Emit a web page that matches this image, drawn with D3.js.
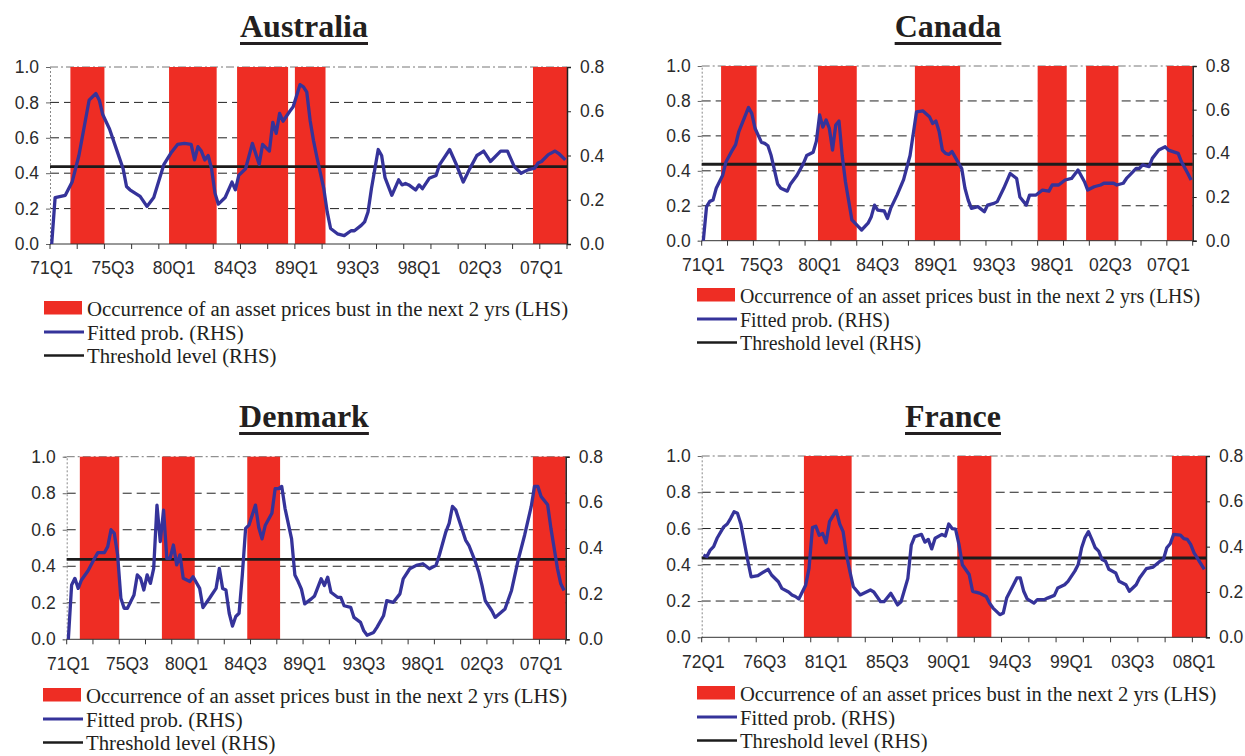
<!DOCTYPE html>
<html>
<head>
<meta charset="utf-8">
<script src="https://cdn.jsdelivr.net/npm/d3@7"></script>
<style>
  body { margin: 0; background: #fff; }
  svg { display: block; }
  .tick text { font-family: "Liberation Sans", Arial, sans-serif; font-size: 17.5px; fill: #2b2b2b; }
  .title { font-family: "Liberation Serif", "Times New Roman", serif; font-size: 32px; font-weight: bold; fill: #231f20; }
  .legend text { font-family: "Liberation Serif", "Times New Roman", serif; fill: #231f20; }
</style>
</head>
<body>
<svg id="chart" width="1245" height="756"></svg>
<script>
// y axis ticks (LHS = bust occurrence, RHS = probabilities)
const lhsTicks = [0, 0.2, 0.4, 0.6, 0.8, 1.0];
const rhsTicks = [0, 0.2, 0.4, 0.6, 0.8];

// x axis labels
const ticks71 = ["71Q1", "75Q3", "80Q1", "84Q3", "89Q1", "93Q3", "98Q1", "02Q3", "07Q1"];
const ticks72 = ["72Q1", "76Q3", "81Q1", "85Q3", "90Q1", "94Q3", "99Q1", "03Q3", "08Q1"];

// threshold level (RHS)
const ausThreshold = 0.35, canThreshold = 0.35, denThreshold = 0.35, fraThreshold = 0.35;

// periods with a bust in the next 2 yrs (first and last quarter)
const ausBust = [["72Q3", "74Q4"], ["79Q4", "83Q1"], ["84Q4", "88Q2"], ["89Q1", "91Q1"], ["06Q3", "08Q4"]];
const canBust = [["72Q3", "75Q1"], ["80Q1", "82Q4"], ["87Q3", "90Q4"], ["97Q1", "99Q1"], ["00Q4", "03Q1"], ["07Q1", "08Q4"]];
const denBust = [["72Q1", "74Q4"], ["78Q2", "80Q3"], ["84Q4", "87Q1"], ["06Q3", "08Q4"]];
const fraBust = [["79Q3", "82Q4"], ["90Q4", "93Q1"], ["06Q3", "08Q4"]];

// fitted probability: [quarters since first quarter, value]
const ausProb = [[0,0],[1,0.21],[4,0.22],[6,0.28],[8,0.40],[11,0.65],[13,0.68],[14,0.65],[15,0.585],[17,0.52],[19,0.43],[21,0.34],[22,0.26],[23,0.245],[26,0.215],[28,0.17],[30,0.21],[33,0.36],[35,0.41],[37,0.45],[39,0.455],[41,0.45],[42,0.38],[43,0.44],[44,0.42],[45,0.38],[46,0.40],[47,0.34],[48,0.23],[49,0.18],[51,0.21],[53,0.28],[54,0.245],[55,0.31],[57,0.34],[59,0.455],[61,0.36],[62,0.45],[64,0.42],[65,0.55],[66,0.50],[67,0.59],[68,0.555],[70,0.60],[71,0.62],[73,0.72],[74,0.71],[75,0.686],[76,0.556],[77,0.465],[78,0.39],[80,0.25],[81,0.145],[82,0.07],[84,0.046],[86,0.038],[88,0.06],[89,0.06],[91,0.084],[92,0.10],[93,0.145],[94,0.25],[96,0.427],[97,0.40],[98,0.30],[100,0.22],[102,0.29],[103,0.267],[104,0.274],[105,0.267],[107,0.244],[108,0.267],[109,0.25],[111,0.297],[113,0.31],[114,0.358],[117,0.427],[119,0.358],[121,0.28],[123,0.343],[125,0.40],[126,0.41],[127,0.42],[129,0.373],[132,0.42],[134,0.42],[136,0.35],[138,0.32],[140,0.335],[142,0.343],[143,0.366],[144,0.373],[146,0.404],[148,0.42],[149,0.41],[151,0.38]];
const canProb = [[0,0],[1,0.156],[2,0.18],[3,0.186],[4,0.24],[5,0.27],[6,0.30],[7,0.36],[9,0.415],[10,0.44],[11,0.50],[14,0.61],[15,0.583],[16,0.515],[18,0.45],[19,0.446],[20,0.435],[21,0.39],[23,0.26],[24,0.24],[26,0.227],[27,0.26],[29,0.30],[31,0.354],[32,0.39],[34,0.405],[35,0.456],[36,0.576],[37,0.52],[38,0.553],[39,0.515],[40,0.415],[41,0.53],[42,0.548],[43,0.39],[44,0.27],[46,0.095],[48,0.064],[49,0.049],[51,0.08],[52,0.11],[53,0.163],[54,0.14],[56,0.136],[57,0.102],[58,0.148],[60,0.21],[62,0.28],[64,0.39],[66,0.59],[68,0.594],[70,0.568],[71,0.537],[72,0.548],[73,0.50],[74,0.415],[75,0.40],[76,0.395],[77,0.408],[80,0.33],[81,0.24],[82,0.186],[83,0.148],[85,0.156],[87,0.133],[88,0.163],[90,0.171],[91,0.179],[93,0.24],[95,0.308],[97,0.285],[98,0.20],[100,0.163],[101,0.209],[103,0.209],[105,0.232],[107,0.227],[108,0.255],[110,0.255],[112,0.278],[114,0.285],[116,0.324],[118,0.27],[119,0.232],[121,0.247],[123,0.255],[124,0.263],[127,0.263],[128,0.255],[130,0.263],[131,0.285],[132,0.30],[134,0.331],[135,0.331],[136,0.347],[138,0.339],[139,0.377],[141,0.415],[143,0.43],[144,0.415],[147,0.40],[148,0.362],[150,0.308],[151,0.278]];
const denProb = [[0,0],[1,0.238],[2,0.267],[3,0.223],[4,0.26],[6,0.30],[8,0.355],[9,0.38],[11,0.38],[12,0.406],[13,0.48],[14,0.464],[15,0.37],[16,0.18],[17,0.136],[18,0.136],[20,0.194],[21,0.282],[22,0.267],[23,0.216],[24,0.282],[25,0.245],[26,0.311],[27,0.588],[28,0.428],[29,0.566],[30,0.355],[31,0.355],[32,0.413],[33,0.326],[34,0.37],[35,0.267],[37,0.253],[38,0.274],[40,0.223],[41,0.139],[43,0.18],[45,0.223],[46,0.311],[47,0.223],[48,0.216],[49,0.114],[50,0.058],[51,0.10],[52,0.114],[53,0.282],[54,0.486],[55,0.50],[57,0.588],[58,0.49],[59,0.44],[60,0.50],[62,0.552],[63,0.66],[64,0.66],[65,0.67],[66,0.574],[68,0.44],[69,0.282],[70,0.253],[71,0.22],[72,0.155],[74,0.177],[75,0.19],[77,0.265],[78,0.236],[79,0.272],[80,0.206],[82,0.184],[83,0.184],[84,0.147],[86,0.14],[87,0.096],[89,0.074],[90,0.037],[91,0.018],[93,0.03],[94,0.052],[96,0.103],[97,0.169],[99,0.162],[101,0.199],[102,0.265],[104,0.309],[106,0.324],[108,0.331],[110,0.309],[112,0.324],[113,0.368],[115,0.471],[116,0.508],[117,0.582],[118,0.567],[120,0.479],[121,0.435],[122,0.412],[124,0.339],[125,0.295],[126,0.236],[127,0.169],[129,0.125],[130,0.096],[133,0.133],[135,0.214],[137,0.346],[139,0.457],[141,0.582],[142,0.67],[143,0.67],[144,0.626],[146,0.589],[147,0.486],[148,0.398],[149,0.309],[150,0.243],[151,0.214]];
const fraProb = [[0,0.363],[1,0.356],[2,0.385],[3,0.40],[4,0.437],[6,0.488],[7,0.50],[8,0.525],[9,0.554],[10,0.547],[11,0.50],[12,0.42],[13,0.34],[14,0.267],[16,0.272],[17,0.282],[19,0.30],[20,0.275],[22,0.245],[23,0.216],[25,0.20],[26,0.187],[27,0.18],[28,0.169],[30,0.23],[31,0.304],[32,0.484],[33,0.49],[34,0.45],[35,0.458],[36,0.417],[37,0.51],[39,0.56],[40,0.50],[41,0.466],[42,0.363],[43,0.29],[44,0.223],[46,0.187],[49,0.209],[50,0.20],[52,0.157],[53,0.157],[55,0.194],[57,0.143],[58,0.157],[60,0.26],[61,0.407],[62,0.444],[64,0.454],[65,0.42],[66,0.432],[67,0.39],[68,0.437],[70,0.454],[71,0.447],[72,0.50],[73,0.48],[74,0.477],[75,0.41],[76,0.32],[78,0.277],[79,0.203],[81,0.195],[83,0.18],[84,0.15],[85,0.129],[87,0.10],[88,0.107],[89,0.173],[91,0.232],[92,0.262],[93,0.262],[94,0.203],[95,0.17],[97,0.151],[98,0.166],[100,0.166],[101,0.173],[103,0.185],[104,0.218],[106,0.232],[107,0.247],[109,0.292],[110,0.321],[111,0.395],[112,0.44],[113,0.466],[114,0.432],[115,0.395],[116,0.38],[117,0.343],[118,0.336],[119,0.30],[121,0.284],[122,0.247],[124,0.232],[125,0.203],[127,0.232],[128,0.262],[130,0.303],[132,0.31],[134,0.336],[135,0.343],[136,0.395],[137,0.413],[138,0.454],[140,0.451],[141,0.435],[142,0.432],[143,0.41],[144,0.373],[146,0.324],[147,0.30]];

const legendLabels = [
  "Occurrence of an asset prices bust in the next 2 yrs (LHS)",
  "Fitted prob. (RHS)",
  "Threshold level (RHS)"
];

const RED = "#ee2d24", BLUE = "#35339a", BLACK = "#1c1c1c";

const panels = [
  { name: "Australia", startYear: 71, n: 152, prob: ausProb, bust: ausBust, ticks: ticks71, threshold: ausThreshold,
    left: 50, right: 567, top: 67, bottom: 244, titleX: 304, titleY: 37, legX: 44, legY: 301, legFont: 20.8 },
  { name: "Canada", startYear: 71, n: 152, prob: canProb, bust: canBust, ticks: ticks71, threshold: canThreshold,
    left: 701.7, right: 1192.7, top: 66, bottom: 240.7, titleX: 948, titleY: 37, legX: 697, legY: 288, legFont: 19.9 },
  { name: "Denmark", startYear: 71, n: 152, prob: denProb, bust: denBust, ticks: ticks71, threshold: denThreshold,
    left: 66.7, right: 565.7, top: 456.7, bottom: 639.3, titleX: 304, titleY: 427, legX: 43, legY: 688, legFont: 20.8 },
  { name: "France", startYear: 72, n: 148, prob: fraProb, bust: fraBust, ticks: ticks72, threshold: fraThreshold,
    left: 701.7, right: 1206, top: 456, bottom: 637.3, titleX: 953, titleY: 427, legX: 697, legY: 686, legFont: 20.6 }
];

const svg = d3.select("#chart");

function quarterLabel(startYear, i) {
  const yr = (startYear + Math.floor(i / 4)) % 100;
  return String(yr).padStart(2, "0") + "Q" + (i % 4 + 1);
}

function drawPanel(p) {
  const quarters = d3.range(p.n).map(i => quarterLabel(p.startYear, i));
  const x = d3.scaleBand().domain(quarters).range([p.left, p.right]);
  const bw = x.bandwidth();
  const yL = d3.scaleLinear().domain([0, 1]).range([p.bottom, p.top]);
  const yR = d3.scaleLinear().domain([0, 0.8]).range([p.bottom, p.top]);

  const g = svg.append("g");

  // dashed gridlines
  g.selectAll(".grid")
    .data(lhsTicks.filter(d => d > 0 && d < 1))
    .enter().append("line")
    .attr("x1", p.left).attr("x2", p.right)
    .attr("y1", d => yL(d)).attr("y2", d => yL(d))
    .attr("stroke", "#222").attr("stroke-dasharray", "9,5");

  // top border
  g.append("line")
    .attr("x1", p.left).attr("x2", p.right)
    .attr("y1", yL(1)).attr("y2", yL(1))
    .attr("stroke", "#777").attr("stroke-dasharray", "8,3,2,3");

  // bust bars
  g.selectAll(".bust")
    .data(p.bust)
    .enter().append("rect")
    .attr("x", d => x(d[0]))
    .attr("width", d => x(d[1]) + bw - x(d[0]))
    .attr("y", yL(1))
    .attr("height", yL(0) - yL(1))
    .attr("fill", RED);

  // left axis
  const la = g.append("g")
    .attr("transform", `translate(${p.left},0)`)
    .call(d3.axisLeft(yL).tickValues(lhsTicks).tickFormat(d3.format(".1f")).tickSize(4).tickPadding(7));
  la.select(".domain").attr("stroke", "#888").attr("stroke-dasharray", "2,2");
  la.selectAll(".tick line").attr("stroke", "#666");

  // right axis
  const ra = g.append("g")
    .attr("transform", `translate(${p.right},0)`)
    .call(d3.axisRight(yR).tickValues(rhsTicks).tickFormat(d3.format(".1f")).tickSize(4).tickPadding(9));
  ra.select(".domain").attr("stroke", "#222").attr("stroke-width", 1.5);
  ra.selectAll(".tick line").attr("stroke", "#222");

  // bottom axis: ticks every 8 quarters, labels every 18
  const ba = g.append("g").attr("transform", `translate(0,${p.bottom})`);
  ba.append("line").attr("x1", p.left).attr("x2", p.right).attr("stroke", "#333");
  ba.selectAll(".qt")
    .data(d3.range(0, p.n + 1, 8))
    .enter().append("line")
    .attr("x1", d => d < p.n ? x(quarters[d]) : p.right)
    .attr("x2", d => d < p.n ? x(quarters[d]) : p.right)
    .attr("y1", 0).attr("y2", 5)
    .attr("stroke", "#333");
  const lab = g.append("g")
    .attr("transform", `translate(0,${p.bottom})`)
    .call(d3.axisBottom(x).tickValues(p.ticks).tickSize(0).tickPadding(18));
  lab.select(".domain").remove();

  // threshold
  g.append("line")
    .attr("x1", p.left).attr("x2", p.right)
    .attr("y1", yR(p.threshold)).attr("y2", yR(p.threshold))
    .attr("stroke", BLACK).attr("stroke-width", 2.8);

  // fitted probability
  const line = d3.line()
    .x(d => x(quarters[d[0]]) + bw / 2)
    .y(d => yR(d[1]));
  g.append("path")
    .datum(p.prob)
    .attr("d", line)
    .attr("fill", "none")
    .attr("stroke", BLUE)
    .attr("stroke-width", 3.3)
    .attr("stroke-linejoin", "round");

  // title with underline
  const t = svg.append("text")
    .attr("class", "title")
    .attr("x", p.titleX).attr("y", p.titleY)
    .attr("text-anchor", "middle")
    .text(p.name);
  const tw = t.node().getComputedTextLength();
  svg.append("rect")
    .attr("x", p.titleX - tw / 2).attr("y", p.titleY + 5)
    .attr("width", tw).attr("height", 3)
    .attr("fill", "#231f20");

  // legend
  const lg = svg.append("g").attr("class", "legend")
    .attr("transform", `translate(${p.legX},${p.legY})`);
  lg.append("rect").attr("x", 0).attr("y", 0).attr("width", 38).attr("height", 13.5).attr("fill", RED);
  lg.append("line").attr("x1", 0).attr("x2", 40).attr("y1", 31).attr("y2", 31)
    .attr("stroke", BLUE).attr("stroke-width", 3);
  lg.append("line").attr("x1", 0).attr("x2", 40).attr("y1", 54.5).attr("y2", 54.5)
    .attr("stroke", BLACK).attr("stroke-width", 2.5);
  lg.selectAll("text")
    .data(legendLabels)
    .enter().append("text")
    .attr("x", 43)
    .attr("y", (d, i) => [15, 38.5, 61.5][i])
    .style("font-size", p.legFont + "px")
    .text(d => d);
}

panels.forEach(drawPanel);
</script>
</body>
</html>
